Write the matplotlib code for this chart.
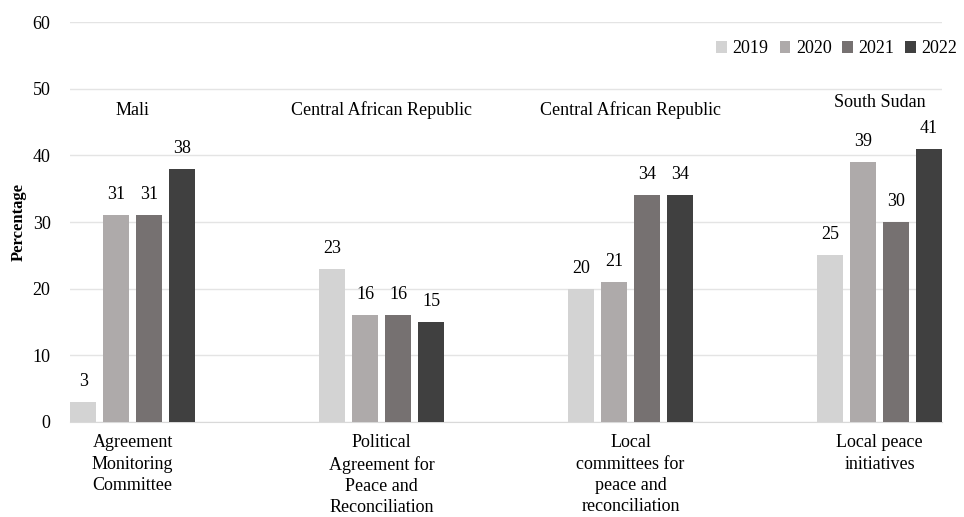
import matplotlib
matplotlib.use("Agg")
import matplotlib.pyplot as plt
import numpy as np

plt.rcParams['font.family'] = ['Liberation Serif', 'DejaVu Serif']

# data
categories = ["Agreement\nMonitoring\nCommittee",
              "Political\nAgreement for\nPeace and\nReconciliation",
              "Local\ncommittees for\npeace and\nreconciliation",
              "Local peace\ninitiatives"]
countries = ["Mali", "Central African Republic", "Central African Republic", "South Sudan"]
country_y = [46.8, 46.8, 46.8, 47.9]
years = ["2019", "2020", "2021", "2022"]
values = {
    "2019": [3, 23, 20, 25],
    "2020": [31, 16, 21, 39],
    "2021": [31, 16, 34, 30],
    "2022": [38, 15, 34, 41],
}
colors = ["#d3d3d3", "#aeaaaa", "#767171", "#404040"]

fs = 13

fig = plt.figure(figsize=(9.64, 5.17), dpi=100)
ax = fig.add_axes([0.0726, 0.184, 0.905, 0.773])

x = np.arange(len(categories))
width = 0.105
pitch = 0.1325
for i, yr in enumerate(years):
    pos = x + (i - 1.5) * pitch
    bars = ax.bar(pos, values[yr], width, color=colors[i], label=yr, zorder=3)
    for b, v in zip(bars, values[yr]):
        ax.text(b.get_x() + b.get_width() / 2, v + 1.8, str(v),
                ha="center", va="bottom", fontsize=fs)

for xi, name, yy in zip(x, countries, country_y):
    ax.text(xi, yy, name, ha="center", va="center", fontsize=fs)

ax.set_xlim(-0.252, 3.252)
ax.set_ylim(0, 60)
ax.set_yticks(range(0, 61, 10))
ax.set_xticks(x)
ax.set_xticklabels(categories, fontsize=fs, linespacing=1.33, va="top")
ax.tick_params(axis="both", length=0, labelsize=fs)
ax.tick_params(axis="x", pad=9)
ax.tick_params(axis="y", pad=14)
ax.grid(axis="y", color="#e4e4e4", linewidth=1, zorder=0)
for s in ["top", "right", "left"]:
    ax.spines[s].set_visible(False)
ax.spines["bottom"].set_color("#d9d9d9")
ax.set_ylabel("Percentage", fontsize=fs - 1, fontweight="bold", labelpad=4)

ax.legend(loc="upper right", bbox_to_anchor=(1.036, 0.995), ncol=4, frameon=False,
          fontsize=fs, handlelength=0.6, handleheight=0.6, handletextpad=0.3,
          columnspacing=0.6)

fig.savefig("out.png", dpi=100)
